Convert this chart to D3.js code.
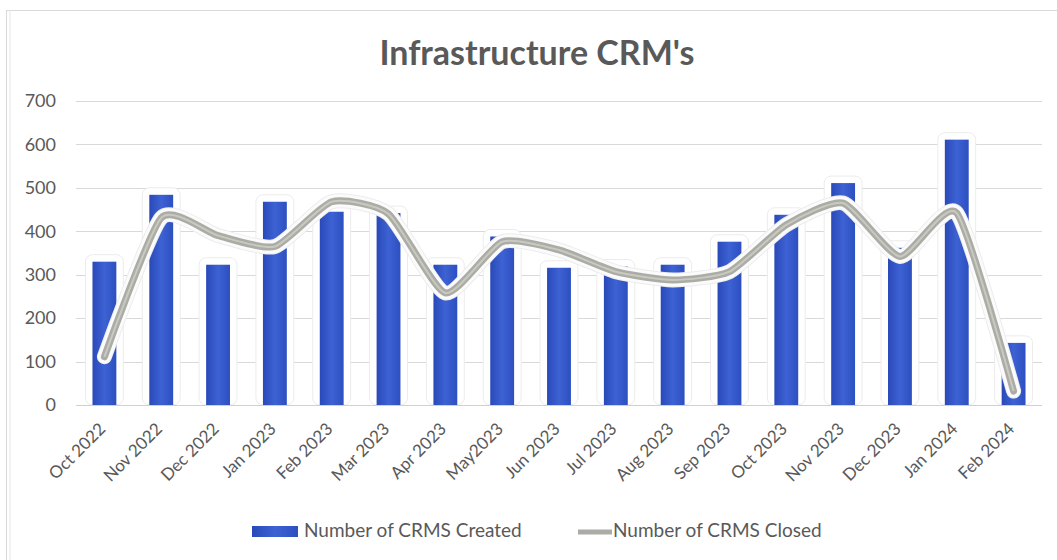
<!DOCTYPE html>
<html>
<head>
<meta charset="utf-8">
<script src="https://cdn.jsdelivr.net/npm/d3@7"></script>
<style>
  body { margin: 0; background: #fff; }
  text { font-family: Lato, "Open Sans", sans-serif; }
</style>
</head>
<body>
<div id="chart"></div>
<script>
const months = ["Oct 2022", "Nov 2022", "Dec 2022", "Jan 2023", "Feb 2023", "Mar 2023", "Apr 2023", "May2023",
    "Jun 2023", "Jul 2023", "Aug 2023", "Sep 2023", "Oct 2023", "Nov 2023", "Dec 2023", "Jan 2024", "Feb 2024"];
const created = [330, 484, 323, 468, 445, 442, 323, 388, 316, 319, 323, 376, 438, 511, 362, 611, 143];
const closed = [111, 431, 390, 365, 468, 440, 258, 376, 357, 307, 288, 307, 415, 465, 342, 442, 32];
const yTicks = [0, 100, 200, 300, 400, 500, 600, 700];
const seriesNames = ["Number of CRMS Created", "Number of CRMS Closed"];

const width = 1057;
const height = 560;
const plotLeft = 76, plotRight = 1042, plotTop = 101, plotBottom = 405;

const svg = d3.select("#chart").append("svg")
    .attr("width", width)
    .attr("height", height);

const defs = svg.append("defs");
const grad = defs.append("linearGradient").attr("id", "barGrad")
    .attr("x1", "0%").attr("x2", "100%").attr("y1", "0%").attr("y2", "0%");
grad.append("stop").attr("offset", "0%").attr("stop-color", "#2a49b8");
grad.append("stop").attr("offset", "50%").attr("stop-color", "#3d62d4");
grad.append("stop").attr("offset", "100%").attr("stop-color", "#2d4fc0");

// chart frame (top and left edges only, as in the screenshot)
svg.append("line").attr("x1", 6).attr("x2", width).attr("y1", 10.5).attr("y2", 10.5)
    .attr("stroke", "#d9d9d9");
svg.append("line").attr("x1", 6.5).attr("x2", 6.5).attr("y1", 10).attr("y2", height)
    .attr("stroke", "#d9d9d9");
svg.append("line").attr("x1", 10).attr("x2", 10).attr("y1", 10).attr("y2", height)
    .attr("stroke", "#e6e6e6");

const x = d3.scaleBand()
    .domain(months)
    .range([plotLeft, plotRight])
    .paddingInner(0.58)
    .paddingOuter(0.29);

const y = d3.scaleLinear()
    .domain([0, 700])
    .range([plotBottom, plotTop]);

// gridlines
svg.append("g")
    .selectAll("line")
    .data(yTicks)
    .enter().append("line")
    .attr("x1", plotLeft).attr("x2", plotRight)
    .attr("y1", d => Math.round(y(d)) + 0.5).attr("y2", d => Math.round(y(d)) + 0.5)
    .attr("stroke", "#d9d9d9")
    .attr("stroke-width", 1.2);

// y axis labels
const yAxis = svg.append("g")
    .attr("transform", "translate(" + plotLeft + ",0)")
    .call(d3.axisLeft(y).tickValues(yTicks).tickSize(0).tickPadding(20));
yAxis.select(".domain").remove();
yAxis.selectAll("text")
    .attr("font-size", 18)
    .attr("fill", "#595959");

// bar halos
svg.append("g")
    .selectAll("rect")
    .data(created)
    .enter().append("rect")
    .attr("x", (d, i) => x(months[i]) - 7)
    .attr("y", d => y(d) - 7)
    .attr("width", x.bandwidth() + 14)
    .attr("height", d => plotBottom - y(d) + 7)
    .attr("rx", 7)
    .attr("fill", "#fff")
    .attr("stroke", "#ececec");

// bars
svg.append("g")
    .selectAll("rect")
    .data(created)
    .enter().append("rect")
    .attr("x", (d, i) => x(months[i]))
    .attr("y", d => y(d))
    .attr("width", x.bandwidth())
    .attr("height", d => plotBottom - y(d))
    .attr("fill", "url(#barGrad)");

// baseline
svg.append("line")
    .attr("x1", plotLeft).attr("x2", plotRight)
    .attr("y1", plotBottom + 0.5).attr("y2", plotBottom + 0.5)
    .attr("stroke", "#d0d0d0");

// closed line
const line = d3.line()
    .x((d, i) => x(months[i]) + x.bandwidth() / 2)
    .y(d => y(d))
    .curve(d3.curveCardinal.tension(0.4));

svg.append("path")
    .datum(closed)
    .attr("d", line)
    .attr("fill", "none")
    .attr("stroke", "#ececec")
    .attr("stroke-width", 15)
    .attr("stroke-linejoin", "round")
    .attr("stroke-linecap", "round");
svg.append("path")
    .datum(closed)
    .attr("d", line)
    .attr("fill", "none")
    .attr("stroke", "#fbfbfb")
    .attr("stroke-width", 13)
    .attr("stroke-linejoin", "round")
    .attr("stroke-linecap", "round");
svg.append("path")
    .datum(closed)
    .attr("d", line)
    .attr("fill", "none")
    .attr("stroke", "#abaca6")
    .attr("stroke-width", 7)
    .attr("stroke-linejoin", "round")
    .attr("stroke-linecap", "round");
svg.append("path")
    .datum(closed)
    .attr("d", line)
    .attr("fill", "none")
    .attr("stroke", "#c8cac0")
    .attr("stroke-width", 2);

// x axis labels
const xAxis = svg.append("g")
    .attr("transform", "translate(0," + plotBottom + ")")
    .call(d3.axisBottom(x).tickSize(0).tickPadding(0));
xAxis.select(".domain").remove();
xAxis.selectAll("text")
    .attr("font-size", 17)
    .attr("fill", "#595959")
    .attr("text-anchor", "end")
    .attr("dy", 0)
    .attr("transform", "translate(2,25) rotate(-45)");

// title
svg.append("text")
    .attr("x", 537)
    .attr("y", 65)
    .attr("text-anchor", "middle")
    .attr("font-size", 34)
    .attr("font-weight", "bold")
    .attr("fill", "#595959")
    .text("Infrastructure CRM's");

// legend
const legend = svg.append("g");
legend.append("rect")
    .attr("x", 252).attr("y", 526)
    .attr("width", 46).attr("height", 11)
    .attr("fill", "url(#barGrad)");
legend.append("text")
    .attr("x", 304).attr("y", 537)
    .attr("font-size", 19)
    .attr("fill", "#595959")
    .text(seriesNames[0]);
legend.append("line")
    .attr("x1", 578).attr("x2", 612)
    .attr("y1", 532).attr("y2", 532)
    .attr("stroke", "#abaca6")
    .attr("stroke-width", 5);
legend.append("text")
    .attr("x", 613).attr("y", 537)
    .attr("font-size", 19)
    .attr("fill", "#595959")
    .text(seriesNames[1]);
</script>
</body>
</html>
